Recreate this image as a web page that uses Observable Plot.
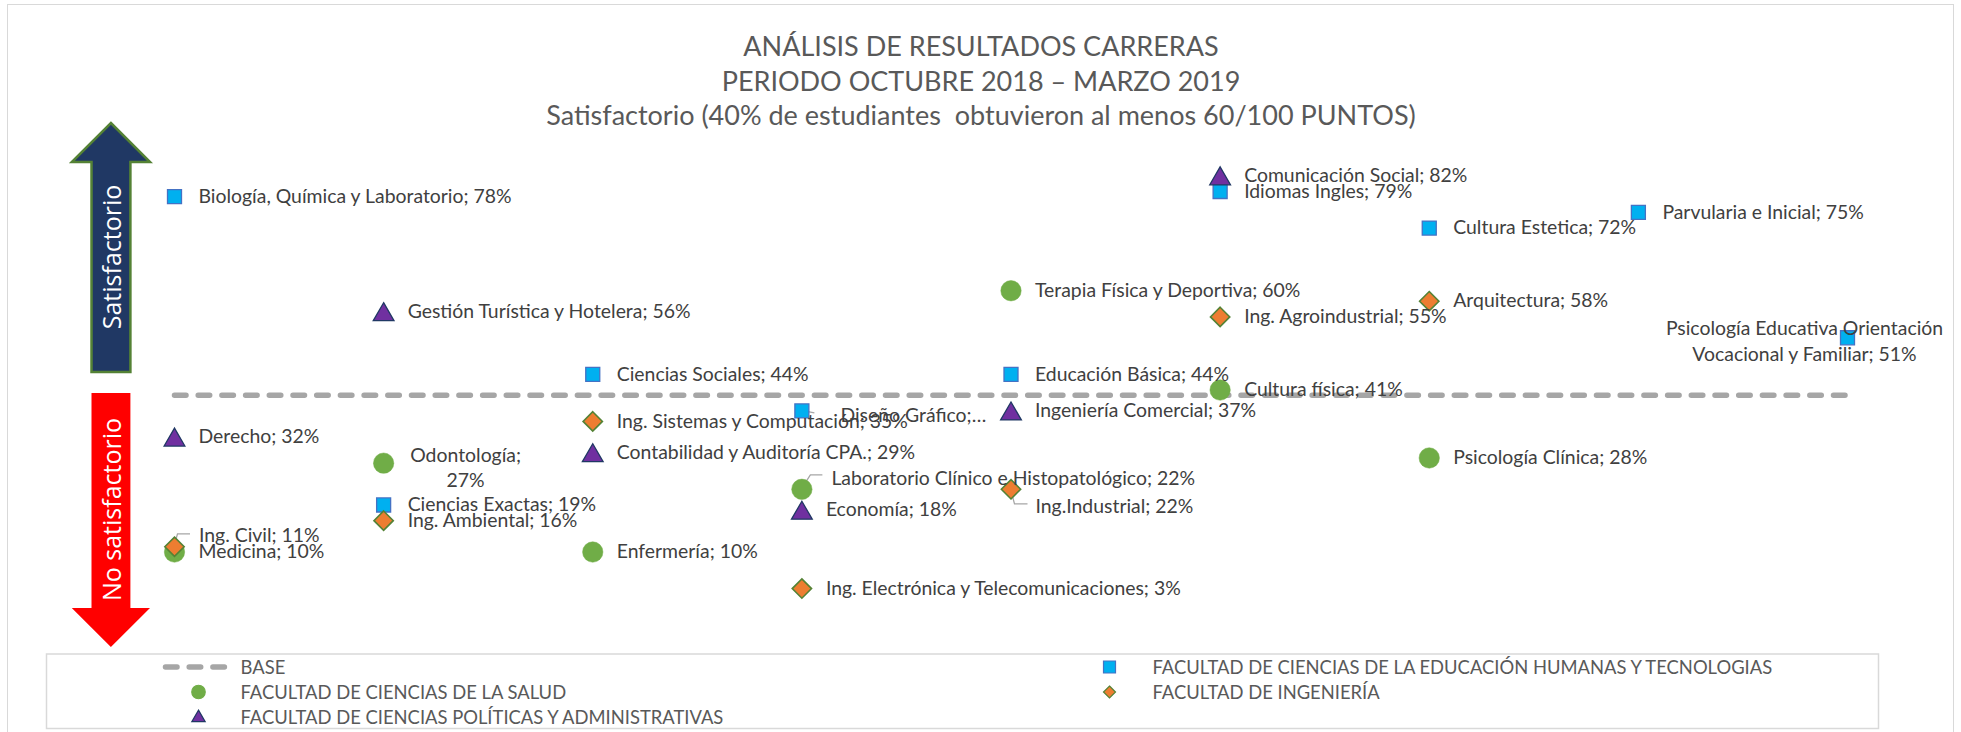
<!DOCTYPE html>
<html><head><meta charset="utf-8">
<script src="https://cdn.jsdelivr.net/npm/d3@7"></script>
<script src="https://cdn.jsdelivr.net/npm/@observablehq/plot@0.6"></script>
<style>
html,body{margin:0;padding:0;background:#fff;}
#root{position:relative;width:1961px;height:732px;overflow:hidden;font-family:Lato,sans-serif;background:#fff;}
#frame{position:absolute;left:7px;top:4px;width:1945px;height:760px;border:1px solid #d9d9d9;}
#title{position:absolute;left:0;top:29px;width:1962px;text-align:center;color:#595959;font-size:27px;line-height:34.5px;font-family:Lato,sans-serif;}
#chart{position:absolute;left:0;top:0;}
#overlay{position:absolute;left:0;top:0;pointer-events:none;}
</style></head>
<body>
<div id="root">
  <div id="frame"></div>
  <div id="title">
    <div>ANÁLISIS DE RESULTADOS CARRERAS</div>
    <div>PERIODO OCTUBRE 2018 – MARZO 2019</div>
    <div>Satisfactorio (40% de estudiantes&nbsp; obtuvieron al menos 60/100 PUNTOS)</div>
  </div>
  <div id="chart"></div>
  <svg id="overlay" width="1961" height="732"></svg>
</div>
<script>
// ---------- DATA ----------
const facultyNames = [
  "FACULTAD DE CIENCIAS DE LA EDUCACIÓN HUMANAS Y TECNOLOGIAS",
  "FACULTAD DE CIENCIAS DE LA SALUD",
  "FACULTAD DE INGENIERÍA",
  "FACULTAD DE CIENCIAS POLÍTICAS Y ADMINISTRATIVAS"
];
const baseName = "BASE";
const baseX = [1, 9];
const baseY = [40, 40];

const eduNames = ["Biología, Química y Laboratorio", "Ciencias Exactas", "Ciencias Sociales", "Diseño Gráfico", "Educación Básica", "Idiomas Ingles", "Cultura Estetica", "Parvularia e Inicial", "Psicología Educativa Orientación Vocacional y Familiar"];
const eduX = [1, 2, 3, 4, 5, 6, 7, 8, 9];
const eduPct = [78, 19, 44, 37, 44, 79, 72, 75, 51];

const saludNames = ["Medicina", "Odontología", "Enfermería", "Laboratorio Clínico e Histopatológico", "Terapia Física y Deportiva", "Cultura física", "Psicología Clínica"];
const saludX = [1, 2, 3, 4, 5, 6, 7];
const saludPct = [10, 27, 10, 22, 60, 41, 28];

const ingNames = ["Ing. Civil", "Ing. Ambiental", "Ing. Sistemas y Computación", "Ing. Electrónica y Telecomunicaciones", "Ing.Industrial", "Ing. Agroindustrial", "Arquitectura"];
const ingX = [1, 2, 3, 4, 5, 6, 7];
const ingPct = [11, 16, 35, 3, 22, 55, 58];

const polNames = ["Derecho", "Gestión Turística y Hotelera", "Contabilidad y Auditoría CPA.", "Economía", "Ingeniería Comercial", "Comunicación Social"];
const polX = [1, 2, 3, 4, 5, 6];
const polPct = [32, 56, 29, 18, 37, 82];

// ---------- STYLES ----------
const facStyle = {
  edu:   {symbol: "square",   r: 7.9,  fill: "#00b0f0", stroke: "#4472c4", strokeWidth: 1.3, dy: 0},
  salud: {symbol: "circle",   r: 10.2, fill: "#70ad47", stroke: "#70ad47", strokeWidth: 0.5, dy: 0},
  ing:   {symbol: "diamond2", r: 8.7,  fill: "#ed7d31", stroke: "#548235", strokeWidth: 1.6, dy: 0},
  pol:   {symbol: "triangle", r: 7.7,  fill: "#7030a0", stroke: "#203864", strokeWidth: 1.3, dy: 3}
};
const legendSymbolArea = {edu: 144, salud: 143, ing: 92, pol: 77};
const labelFont = 19.4;
const labelColor = "#404040";
const defaultLabel = {dx: 24, dy: 0, anchor: "start"};
const specialLabels = {
  "Ing. Civil": {dx: 24.5, dy: -12.5, anchor: "start", leader: [[3.5, -12.5], [16, -12.5]]},
  "Odontología": {dx: 82, dy: 3, anchor: "middle", breakAfter: ";"},
  "Psicología Educativa Orientación Vocacional y Familiar": {dx: -43, dy: 2, anchor: "middle", breakAfter: "Orientación"},
  "Diseño Gráfico": {dx: 38.5, dy: 3, anchor: "start", truncate: true, leader: [[13, 2.5]]},
  "Laboratorio Clínico e Histopatológico": {dx: 29.5, dy: -13, anchor: "start", leader: [[9, -14], [21, -14]]},
  "Ing.Industrial": {dx: 24.5, dy: 15.5, anchor: "start", leader: [[4, 15], [17, 15]]}
};

// ---------- TABLE ----------
function rows(names, xs, ps, fac) {
  return names.map((n, i) => ({name: n, x: xs[i], pct: ps[i], fac}));
}
const data = [
  ...rows(eduNames, eduX, eduPct, "edu"),
  ...rows(saludNames, saludX, saludPct, "salud"),
  ...rows(ingNames, ingX, ingPct, "ing"),
  ...rows(polNames, polX, polPct, "pol")
];
function labelOf(d) {
  const s = specialLabels[d.name];
  if (s && s.truncate) return d.name + ";…";
  let t = `${d.name}; ${d.pct}%`;
  if (s && s.breakAfter) t = t.replace(s.breakAfter + " ", s.breakAfter + "\n");
  return t;
}
data.forEach(d => d.label = labelOf(d));
const baseData = baseX.map((x, i) => ({x, pct: baseY[i]}));

// ---------- PLOT ----------
const W = 1961, H = 732;
const dashStyle = {stroke: "#a6a6a6", strokeWidth: 5.5, strokeDasharray: "11.5,12.2", strokeLinecap: "round"};

const marks = [
  Plot.line(baseData, {x: "x", y: "pct", ...dashStyle})
];
for (const fac of ["edu", "salud", "ing", "pol"]) {
  const st = facStyle[fac];
  marks.push(Plot.dot(data.filter(d => d.fac === fac), {x: "x", y: "pct", ...st}));
}
marks.push(Plot.text(data.filter(d => !specialLabels[d.name]), {
  x: "x", y: "pct", text: "label", dx: defaultLabel.dx, dy: defaultLabel.dy,
  textAnchor: "start", fontSize: labelFont, fill: labelColor
}));
for (const [name, s] of Object.entries(specialLabels)) {
  marks.push(Plot.text(data.filter(d => d.name === name), {
    x: "x", y: "pct", text: "label", dx: s.dx, dy: s.dy, textAnchor: s.anchor,
    fontSize: labelFont, fill: labelColor, lineHeight: 1.32
  }));
}

const plot = Plot.plot({
  width: W, height: H,
  marginLeft: 174, marginRight: W - 1847, marginTop: 81.25, marginBottom: H - 603.75,
  x: {domain: [1, 9], axis: null},
  y: {domain: [0, 100], axis: null},
  style: {background: "transparent", overflow: "visible", fontFamily: "Lato, sans-serif"},
  marks
});
document.getElementById("chart").appendChild(plot);

// leader lines through the plot's scales
const sx = plot.scale("x"), sy = plot.scale("y");
const firstDot = plot.querySelector("g[aria-label='dot']");
const leadG = document.createElementNS("http://www.w3.org/2000/svg", "g");
plot.insertBefore(leadG, firstDot);
for (const d of data) {
  const s = specialLabels[d.name];
  if (!s || !s.leader) continue;
  const px = sx.apply(d.x), py = sy.apply(d.pct);
  const pts = [[px, py], ...s.leader.map(([a, b]) => [px + a, py + b])];
  d3.select(leadG).append("path")
    .attr("d", d3.line()(pts))
    .attr("fill", "none").attr("stroke", "#a6a6a6").attr("stroke-width", 1.3);
}

// ---------- ARROWS & LEGEND (overlay) ----------
const ov = d3.select("#overlay");
ov.append("polygon")
  .attr("points", [[110.9,123],[150,162],[130.4,162],[130.4,372],[91.5,372],[91.5,162],[71.8,162]].join(" "))
  .attr("fill", "#203864").attr("stroke", "#548235").attr("stroke-width", 2.5);
ov.append("polygon")
  .attr("points", [[91.5,393],[130.4,393],[130.4,608],[150,608],[110.9,647],[71.8,608],[91.5,608]].join(" "))
  .attr("fill", "#ff0000");
const arrowTxt = [["Satisfactorio", 111, 257], ["No satisfactorio", 111, 509.5]];
for (const [t, x, y] of arrowTxt) {
  ov.append("text").text(t)
    .attr("transform", `translate(${x},${y}) rotate(-90)`)
    .attr("text-anchor", "middle").attr("dominant-baseline", "central")
    .attr("fill", "#fff").attr("font-family", "'Open Sans', sans-serif").attr("font-size", 25);
}

// legend box
ov.append("rect").attr("x", 46.5).attr("y", 654).attr("width", 1832).attr("height", 74.5)
  .attr("fill", "none").attr("stroke", "#d9d9d9").attr("stroke-width", 1.5);
const legendItems = [
  {label: baseName, kind: "base", col: 0, row: 0},
  {label: facultyNames[0], kind: "edu", col: 1, row: 0},
  {label: facultyNames[1], kind: "salud", col: 0, row: 1},
  {label: facultyNames[2], kind: "ing", col: 1, row: 1},
  {label: facultyNames[3], kind: "pol", col: 0, row: 2}
];
const colMarker = [198.5, 1109.5], colText = [240.5, 1152.5], rowY = [667, 692, 716.5];
const symMap = {square: d3.symbolSquare, circle: d3.symbolCircle, diamond2: d3.symbolDiamond2, triangle: d3.symbolTriangle};
for (const it of legendItems) {
  const mx = colMarker[it.col], ty = rowY[it.row];
  if (it.kind === "base") {
    ov.append("line").attr("x1", 165.5).attr("x2", 224.8).attr("y1", ty).attr("y2", ty)
      .attr("stroke", dashStyle.stroke).attr("stroke-width", 5.5)
      .attr("stroke-dasharray", dashStyle.strokeDasharray).attr("stroke-linecap", "round");
  } else {
    const st = facStyle[it.kind];
    const sym = d3.symbol(symMap[st.symbol], legendSymbolArea[it.kind])();
    ov.append("path").attr("d", sym)
      .attr("transform", `translate(${mx},${ty + (it.kind === "pol" ? 1.3 : 0)})`)
      .attr("fill", st.fill).attr("stroke", st.stroke).attr("stroke-width", 1.2);
  }
  ov.append("text").text(it.label).attr("x", colText[it.col]).attr("y", ty)
    .attr("dominant-baseline", "central").attr("fill", "#595959")
    .attr("font-family", "Lato, sans-serif").attr("font-size", 18.4);
}
</script>
</body></html>
